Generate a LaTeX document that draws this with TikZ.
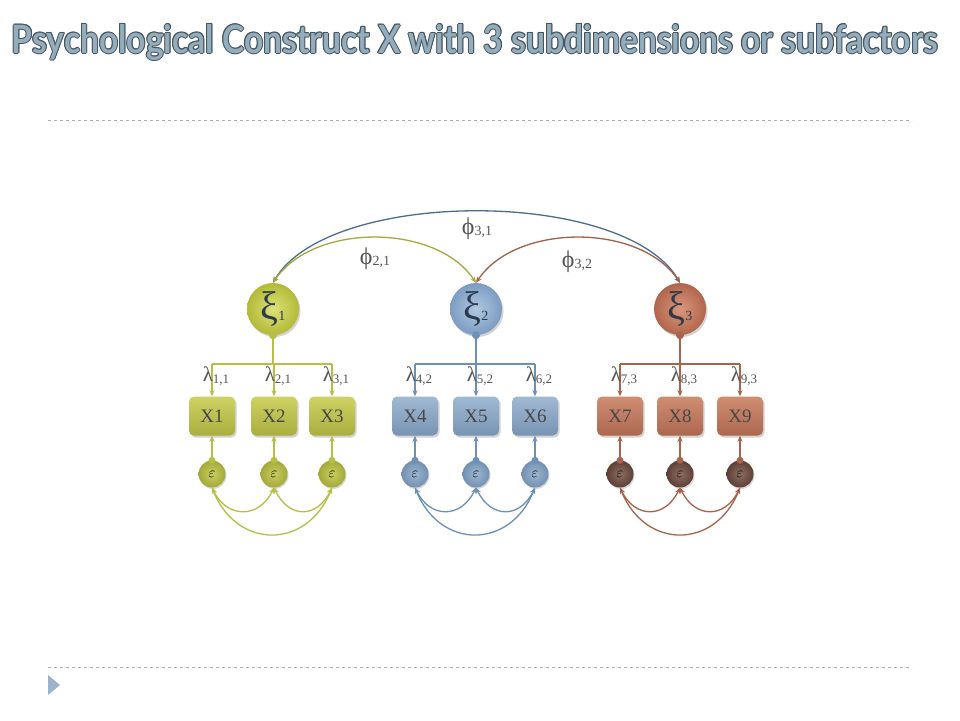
\documentclass[tikz,border=0pt]{standalone}
\usepackage{fontspec}
\setmainfont{Liberation Serif}
\newfontfamily\titlefont{Lato}
\usetikzlibrary{arrows.meta,shadows,calc}
\definecolor{titleFill}{HTML}{94ADBD}
\definecolor{titleEdge}{HTML}{46555F}
\definecolor{dashC}{HTML}{9FB0BE}
\definecolor{triC}{HTML}{9DB3CB}
\definecolor{gIn}{HTML}{DDE27A}\definecolor{gOut}{HTML}{B3B936}
\definecolor{gTop}{HTML}{CDD262}\definecolor{gBot}{HTML}{A9AE3E}
\definecolor{gEIn}{HTML}{C9CE5E}\definecolor{gEOut}{HTML}{A3A93A}
\definecolor{gLine}{HTML}{B5BE45}
\definecolor{bIn}{HTML}{AFC8E2}\definecolor{bOut}{HTML}{7C9CC0}
\definecolor{bTop}{HTML}{9FB8D3}\definecolor{bBot}{HTML}{7893B3}
\definecolor{bEIn}{HTML}{9DB6D0}\definecolor{bEOut}{HTML}{7390B2}
\definecolor{bLine}{HTML}{6D90B8}
\definecolor{rIn}{HTML}{DA977C}\definecolor{rOut}{HTML}{B0664C}
\definecolor{rTop}{HTML}{CF8D72}\definecolor{rBot}{HTML}{AC684F}
\definecolor{rEIn}{HTML}{8E6E62}\definecolor{rEOut}{HTML}{5C3F37}
\definecolor{rLine}{HTML}{A8634C}
\definecolor{phiG}{HTML}{A5A83E}
\definecolor{phiB}{HTML}{4D6D8E}
\definecolor{phiR}{HTML}{A0604A}
\definecolor{labC}{HTML}{555555}
\definecolor{xiC}{HTML}{2C3A4A}
\newcommand\titletext{\resizebox{926pt}{29pt}{\titlefont\bfseries Psychological Construct X with 3 subdimensions or subfactors}}
\newcommand\lam[1]{{\fontsize{21}{21}\selectfont λ}\raisebox{-2pt}{\fontsize{13}{13}\selectfont #1}}
\newcommand\ph[1]{{\fontsize{24}{24}\selectfont ϕ}\raisebox{-1pt}{\fontsize{14}{14}\selectfont #1}}
\newcommand\xis[1]{ξ\raisebox{-1pt}{\fontsize{14}{14}\selectfont #1}}
\begin{document}
\begin{tikzpicture}[x=1pt,y=-1pt,
  latent/.style={circle,minimum size=52pt,inner sep=0pt,text=xiC,
    font=\fontsize{40}{40}\selectfont,
    drop shadow={opacity=0.35,shadow xshift=1.5pt,shadow yshift=-2pt}},
  obs/.style={rounded corners=5pt,minimum width=46pt,minimum height=39pt,
    inner sep=0pt,text=black!72,font=\fontsize{19}{19}\selectfont,
    drop shadow={opacity=0.35,shadow xshift=1.5pt,shadow yshift=-2pt}},
  err/.style={circle,minimum size=27pt,inner sep=0pt,
    font=\fontsize{14}{14}\selectfont,
    drop shadow={opacity=0.3,shadow xshift=1pt,shadow yshift=-1.5pt}},
  lnk/.style={line width=1.3pt},
  tip/.style={-{Stealth[length=6pt,width=5pt]}},
  dtip/.style={{Stealth[length=6pt,width=5pt]}-{Stealth[length=6pt,width=5pt]}},
  lablam/.style={text=labC,inner sep=0pt},
  dashline/.style={dashC,line width=0.8pt,dash pattern=on 3pt off 3pt}]
\useasboundingbox (0,0) rectangle (960,720);
\fill[white] (0,0) rectangle (960,720);
% title (manual contour)
\foreach \a in {0,45,...,315}{
  \node[text=titleEdge,inner sep=0pt,anchor=base] (tc\a) at ($(475,53)+(\a:1pt)$) {\titletext};}
\node[text=titleFill,inner sep=0pt,anchor=base] (title) at (475,53) {\titletext};
% dashed rules and bullet
\draw[dashline] (48,120) -- (912,120);
\draw[dashline] (48,667) -- (912,667);
\fill[triC] (48,675) -- (60,685) -- (48,695) -- cycle;
% latent factors
\node[latent,inner color=gIn,outer color=gOut] (xi1) at (273,309) {\xis{1}};
\node[latent,inner color=bIn,outer color=bOut] (xi2) at (476,309) {\xis{2}};
\node[latent,inner color=rIn,outer color=rOut] (xi3) at (680,309) {\xis{3}};
% observed
\foreach \n/\x/\t/\b in {1/212/gTop/gBot,2/274/gTop/gBot,3/332/gTop/gBot,
  4/415/bTop/bBot,5/476/bTop/bBot,6/535/bTop/bBot,
  7/620/rTop/rBot,8/680/rTop/rBot,9/740/rTop/rBot}{
  \node[obs,top color=\t,bottom color=\b] (x\n) at (\x,416) {X\n};}
% errors
\foreach \n/\x/\i/\o in {1/212/gEIn/gEOut,2/274/gEIn/gEOut,3/332/gEIn/gEOut,
  4/415/bEIn/bEOut,5/476/bEIn/bEOut,6/535/bEIn/bEOut,
  7/620/rEIn/rEOut,8/680/rEIn/rEOut,9/740/rEIn/rEOut}{
  \node[err,inner color=\i,outer color=\o] (e\n) at (\x,474) {$\varepsilon$};}
% loadings
\foreach \g/\a/\b/\c/\col in {1/1/2/3/gLine,2/4/5/6/bLine,3/7/8/9/rLine}{
  \draw[lnk,\col] (xi\g.south) -- (xi\g.south |- 0,364) coordinate (m\g);
  \draw[lnk,\col] (x\a.north |- m\g) -- (x\c.north |- m\g);
  \foreach \k in {\a,\b,\c}{
    \draw[lnk,tip,\col] (x\k.north |- m\g) -- (x\k.north);
    \fill[\col] (e\k.north) circle (3.5pt);
    \draw[lnk,tip,\col] (e\k.north) -- (x\k.south);}
  \fill[\col] (xi\g.south) circle (4pt);
  % error covariances
  \draw[lnk,dtip,\col] (e\a.south) .. controls +(15,31) and +(-15,31) .. (e\b.south);
  \draw[lnk,dtip,\col] (e\b.south) .. controls +(15,31) and +(-15,31) .. (e\c.south);
  \draw[lnk,dtip,\col] (e\a.south) .. controls +(25,62) and +(-25,62) .. (e\c.south);
}
% loading labels
\foreach \k/\s in {1/{1,1},2/{2,1},3/{3,1},4/{4,2},5/{5,2},6/{6,2},7/{7,3},8/{8,3},9/{9,3}}{
  \node[lablam] (l\k) at ($(x\k.north)+(4,-20)$) {\lam{\s}};}
% factor covariances
\draw[lnk,dtip,phiB] (xi1.north) .. controls +(55,-95) and +(-55,-95) .. (xi3.north);
\draw[lnk,dtip,phiG] (xi1.north) .. controls +(40,-60) and +(-40,-60) .. (xi2.north);
\draw[lnk,dtip,phiR] (xi2.north) .. controls +(40,-60) and +(-40,-60) .. (xi3.north);
\node[lablam] (p31) at (477,229) {\ph{3,1}};
\node[lablam] (p21) at (375,259) {\ph{2,1}};
\node[lablam] (p32) at (577,262) {\ph{3,2}};
\end{tikzpicture}
\end{document}
